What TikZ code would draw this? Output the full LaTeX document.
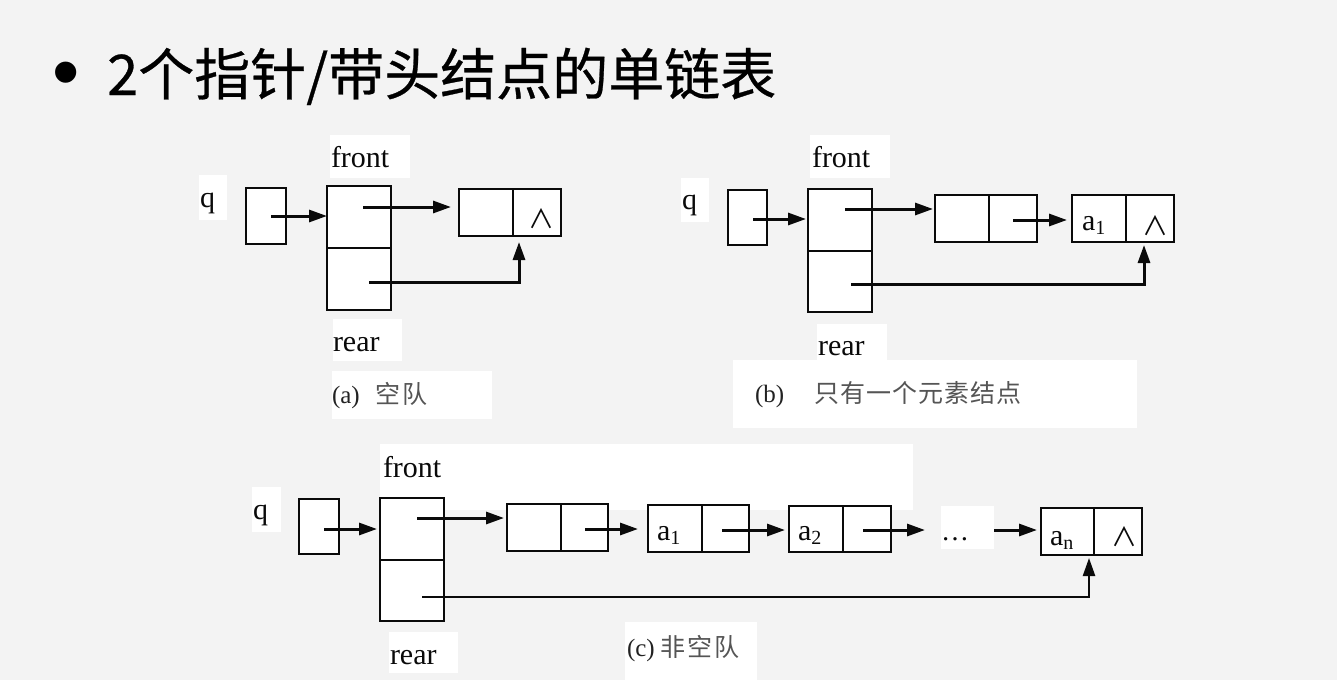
\documentclass[tikz,border=0pt]{standalone}
\usepackage{fontspec}
\setmainfont{Liberation Serif}
\newfontfamily\cjk{Noto Sans CJK SC}
\newfontfamily\cjkt[FakeBold=0.5]{Noto Sans CJK SC}
\newfontfamily\bulf{Liberation Sans}
\usetikzlibrary{arrows.meta}
\definecolor{bg}{RGB}{243,243,243}
\definecolor{cjkgray}{RGB}{85,85,85}
\definecolor{ink}{RGB}{10,10,10}
\newcommand{\subnum}[1]{\raisebox{-4pt}{\fontsize{20}{20}\selectfont #1}}
\tikzset{
  cell/.style={draw=ink, fill=white, line width=2.6pt, inner sep=0pt, outer sep=0pt, anchor=north west},
  arr/.style={draw=ink, line width=3pt, -{Triangle[length=18pt,width=12pt]}},
  patch/.style={fill=white, draw=none},
  lbl/.style={anchor=base west, inner sep=0pt, outer sep=0pt, text=ink, font=\fontsize{30}{30}\selectfont},
  captext/.style={anchor=base west, inner sep=0pt, outer sep=0pt, text=ink!90, font=\fontsize{25}{25}\selectfont},
  capcjk/.style={anchor=base west, inner sep=0pt, outer sep=0pt, text=cjkgray, font=\fontsize{25}{25}\selectfont\cjk},
  nil/.style={inner sep=0pt, outer sep=0pt, text=ink, font=\fontsize{26}{26}\selectfont\cjk},
}
\begin{document}
\begin{tikzpicture}[x=1pt,y=-1pt]
\useasboundingbox (0,0) rectangle (1337,680);
\fill[bg] (0,0) rectangle (1337,680);

% ---------- title ----------
\node[inner sep=0pt, font=\fontsize{78}{78}\selectfont\bulf] (bullet) at (66,80) {•};
\node[anchor=base west, inner sep=0pt, font=\fontsize{56}{56}\selectfont\cjkt] (title) at (107,95) {2个指针/带头结点的单链表};

% ---------- white patches ----------
\fill[patch] (199,175) rectangle (227,220);
\fill[patch] (330,135) rectangle (410,178);
\fill[patch] (333,319) rectangle (402,361);
\fill[patch] (332,371) rectangle (492,419);
\fill[patch] (681,178) rectangle (709,222);
\fill[patch] (810,135) rectangle (890,178);
\fill[patch] (817,324) rectangle (887,360);
\fill[patch] (733,360) rectangle (1137,428);
\fill[patch] (252,487) rectangle (281,532);
\fill[patch] (380,444) rectangle (913,510);
\fill[patch] (389,632) rectangle (458,673);
\fill[patch] (625,622) rectangle (757,680);
\fill[patch] (941,506) rectangle (994,549);

% ================= (a) =================
\node[cell, minimum width=40pt, minimum height=56pt] (qa) at (246,188) {};
\node[cell, minimum width=64pt, minimum height=62pt] (fta) at (327,186) {};
\node[cell, minimum width=64pt, minimum height=62pt] (rba) at (327,248) {};
\node[cell, minimum width=54pt, minimum height=47pt] (n1la) at (459,189) {};
\node[cell, minimum width=48pt, minimum height=47pt] (n1ra) at (513,189) {};
\node[nil] (nila) at (541.5,219) {∧};
\node[lbl] (qla) at (200,207) {q};
\node[lbl] (fla) at (331,167) {front};
\node[lbl] (rla) at (333,351) {rear};
\node[captext] (capa) at (332,403) {(a)};
\node[capcjk] (capac) at (375,403) {空\kern2pt队};
\coordinate (qsa) at (271,216);
\coordinate (fsa) at (363,207);
\coordinate (rsa) at (369,282);
\draw[arr] (qsa) -- (qsa -| fta.west);
\draw[arr, shorten >=8pt] (fsa) -- (fsa -| n1la.west);
\draw[arr, shorten >=6pt] (rsa) -| ([xshift=6pt]n1ra.south west);

% ================= (b) =================
\node[cell, minimum width=39pt, minimum height=55pt] (qb) at (728,190) {};
\node[cell, minimum width=64pt, minimum height=62pt] (ftb) at (808,189) {};
\node[cell, minimum width=64pt, minimum height=61pt] (rbb) at (808,251) {};
\node[cell, minimum width=54pt, minimum height=47pt] (n1lb) at (935,195) {};
\node[cell, minimum width=48pt, minimum height=47pt] (n1rb) at (989,195) {};
\node[cell, minimum width=54pt, minimum height=47pt] (n2lb) at (1072,195) {};
\node[cell, minimum width=48pt, minimum height=47pt] (n2rb) at (1126,195) {};
\node[lbl] (a1b) at (1082,230) {a\subnum{1}};
\node[nil] (nilb) at (1155,225.5) {∧};
\node[lbl] (qlb) at (682,209) {q};
\node[lbl] (flb) at (812,167) {front};
\node[lbl] (rlb) at (818,355) {rear};
\node[captext] (capb) at (755,402) {(b)};
\node[capcjk] (capbc) at (814,402) {只\kern1pt有\kern1pt一\kern1pt个\kern1pt元\kern1pt素\kern1pt结\kern1pt点};
\coordinate (qsb) at (753,219);
\coordinate (fsb) at (845,209);
\coordinate (nsb) at (1013,220);
\coordinate (rsb) at (851,284);
\draw[arr, shorten >=2pt] (qsb) -- (qsb -| ftb.west);
\draw[arr, shorten >=2pt] (fsb) -- (fsb -| n1lb.west);
\draw[arr, shorten >=5pt] (nsb) -- (nsb -| n2lb.west);
\draw[arr, shorten >=3pt] (rsb) -| ([xshift=18pt]n2rb.south west);

% ================= (c) =================
\node[cell, minimum width=40pt, minimum height=55pt] (qc) at (299,499) {};
\node[cell, minimum width=64pt, minimum height=62pt] (ftc) at (380,498) {};
\node[cell, minimum width=64pt, minimum height=61pt] (rbc) at (380,560) {};
\node[cell, minimum width=54pt, minimum height=47pt] (n1lc) at (507,504) {};
\node[cell, minimum width=47pt, minimum height=47pt] (n1rc) at (561,504) {};
\node[cell, minimum width=54pt, minimum height=47pt] (a1lc) at (648,505) {};
\node[cell, minimum width=47pt, minimum height=47pt] (a1rc) at (702,505) {};
\node[cell, minimum width=54pt, minimum height=46pt] (a2lc) at (789,506) {};
\node[cell, minimum width=48pt, minimum height=46pt] (a2rc) at (843,506) {};
\node[cell, minimum width=53pt, minimum height=47pt] (anlc) at (1041,508) {};
\node[cell, minimum width=48pt, minimum height=47pt] (anrc) at (1094,508) {};
\node[lbl] (a1c) at (657,540) {a\subnum{1}};
\node[lbl] (a2c) at (798,540) {a\subnum{2}};
\node[lbl] (anc) at (1050,545) {a\subnum{n}};
\node[nil] (nilc) at (1124,537) {∧};
\node[lbl, font=\fontsize{28}{28}\selectfont] (dots) at (941,540) {…};
\node[lbl] (qlc) at (253,519) {q};
\node[lbl] (flc) at (383,477) {front};
\node[lbl] (rlc) at (390,664) {rear};
\node[captext] (capc) at (627,656) {(c)};
\node[capcjk] (capcc) at (660,656) {非\kern2pt空\kern2pt队};
\coordinate (qsc) at (324,529);
\coordinate (fsc) at (417,518);
\coordinate (n1sc) at (585,529);
\coordinate (a1sc) at (722,530);
\coordinate (a2sc) at (863,530);
\coordinate (dsc) at (994,530);
\coordinate (rsc) at (422,597);
\draw[arr, shorten >=3pt] (qsc) -- (qsc -| ftc.west);
\draw[arr, shorten >=3pt] (fsc) -- (fsc -| n1lc.west);
\draw[arr, shorten >=10pt] (n1sc) -- (n1sc -| a1lc.west);
\draw[arr, shorten >=4pt] (a1sc) -- (a1sc -| a2lc.west);
\draw[arr, shorten >=16pt] (a2sc) -- (a2sc -| dots.west);
\draw[arr, shorten >=4pt] (dsc) -- (dsc -| anlc.west);
\draw[arr, line width=2.4pt, shorten >=3pt] (rsc) -| ([xshift=-5pt]anrc.south west);
\end{tikzpicture}
\end{document}
